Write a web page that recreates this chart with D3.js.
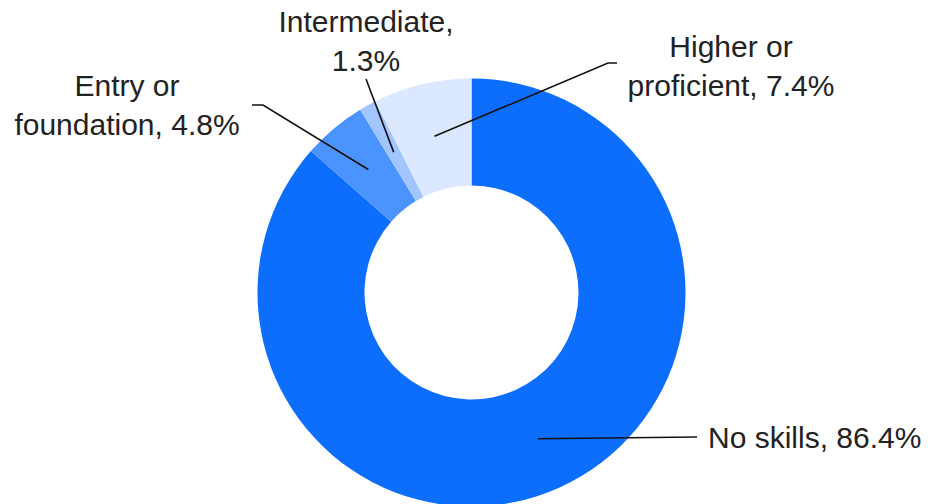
<!DOCTYPE html>
<html>
<head>
<meta charset="utf-8">
<script src="https://cdn.jsdelivr.net/npm/d3@7"></script>
<style>
html,body{margin:0;padding:0;background:#fff;}
svg{display:block;}
text{font-family:"Liberation Sans",Arial,sans-serif;fill:#222;}
</style>
</head>
<body>
<svg id="chart" width="928" height="504"></svg>
<script>
const categories = ["No skills", "Entry or foundation", "Intermediate", "Higher or proficient"];
const values = [86.4, 4.8, 1.3, 7.4];
const colors = ["#0d6efd", "#4b93ff", "#a2c5ff", "#dbe8ff"];
// label lines (text rows) for each category
const labelLines = [
  ["No skills, 86.4%"],
  ["Entry or", "foundation, 4.8%"],
  ["Intermediate,", "1.3%"],
  ["Higher or", "proficient, 7.4%"]
];

const W = 928, H = 504;
const cx = 471.5, cy = 292.5, rOuter = 214, rInner = 107;

const svg = d3.select("#chart");
const g = svg.append("g").attr("transform", `translate(${cx},${cy})`);

const data = categories.map((c, i) => ({ name: c, value: values[i], color: colors[i], lines: labelLines[i] }));

const pie = d3.pie().value(d => d.value).sort(null);
const arc = d3.arc().innerRadius(rInner).outerRadius(rOuter);
const arcs = pie(data);

g.selectAll("path.slice").data(arcs).join("path")
  .attr("class", "slice")
  .attr("d", arc)
  .attr("fill", d => d.data.color);

const labelLayout = [
  { tx: 708, ty: 448, anchor: "start", elbow: [[697, 437]] },
  { tx: 127, ty: 96, anchor: "middle", elbow: [[263, 105], [252, 105]] },
  { tx: 366, ty: 32, anchor: "middle", elbow: [[366, 79]] },
  { tx: 731, ty: 57, anchor: "middle", elbow: [[608, 63], [617, 63]] }
];

const lineH = 39;
const fontSize = 30;

arcs.forEach((a, i) => {
  const c = arc.centroid(a);
  const L = labelLayout[i];
  const pts = [[cx + c[0], cy + c[1]]].concat(L.elbow);
  svg.append("path")
    .attr("d", d3.line()(pts))
    .attr("fill", "none")
    .attr("stroke", "#111")
    .attr("stroke-width", 1.6);
  const t = svg.append("text")
    .attr("text-anchor", L.anchor)
    .attr("font-size", fontSize);
  a.data.lines.forEach((ln, j) => {
    t.append("tspan").attr("x", L.tx).attr("y", L.ty + j * lineH).text(ln);
  });
});
</script>
</body>
</html>
